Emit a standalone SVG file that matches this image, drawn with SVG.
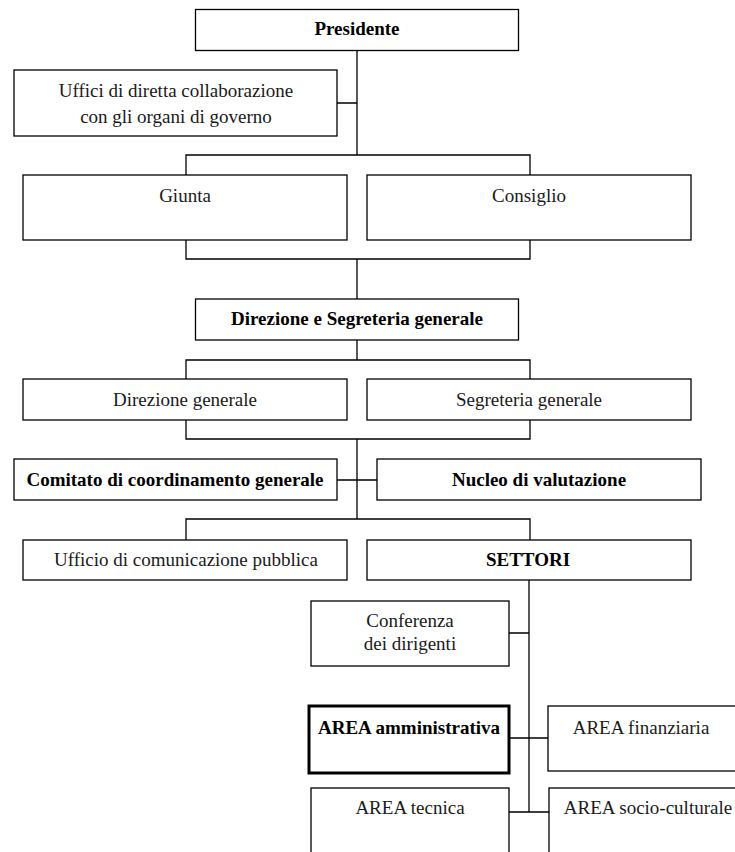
<svg xmlns="http://www.w3.org/2000/svg" width="735" height="852" viewBox="0 0 735 852">
<style>
.box{fill:#fff;stroke:#000;stroke-width:1.3}
.thick{fill:#fff;stroke:#000;stroke-width:3}
.t{font-family:"Liberation Serif","Times New Roman",serif;font-size:19px;fill:#1a1a1a;text-anchor:middle}
.b{font-weight:bold;fill:#000}
.c{fill:none;stroke:#000;stroke-width:1.3}
</style>
<rect width="735" height="852" fill="#fff"/>
<g id="connectors">
<path class="c" d="M357,51 V155 M337,103 H357 M186,175 V155 H530 V175"/>
<path class="c" d="M186,240 V259 H530 V240 M357,259 V299"/>
<path class="c" d="M357,340 V360 M186,379 V360 H530 V379"/>
<path class="c" d="M186,420 V439 H530 V420 M357,439 V519 M337,480 H377"/>
<path class="c" d="M186,540 V519 H530 V540"/>
<path class="c" d="M529,580 V812 M509,633 H529 M509,738 H548 M509,812 H549"/>
</g>
<g id="presidente"><rect class="box" x="195.5" y="9.5" width="323" height="41"/><text class="t b" x="357" y="35">Presidente</text></g>
<g id="uffici"><rect class="box" x="14" y="70" width="323" height="66"/><text class="t" x="176" y="97">Uffici di diretta collaborazione</text><text class="t" x="176" y="123">con gli organi di governo</text></g>
<g id="giunta"><rect class="box" x="23" y="175" width="324" height="65"/><text class="t" x="185" y="202">Giunta</text></g>
<g id="consiglio"><rect class="box" x="367" y="175" width="324" height="65"/><text class="t" x="529" y="202">Consiglio</text></g>
<g id="direzione-segreteria"><rect class="box" x="195.5" y="299" width="323" height="41"/><text class="t b" x="357" y="325">Direzione e Segreteria generale</text></g>
<g id="direzione-generale"><rect class="box" x="23" y="379" width="324" height="41"/><text class="t" x="185" y="406">Direzione generale</text></g>
<g id="segreteria-generale"><rect class="box" x="367" y="379" width="324" height="41"/><text class="t" x="529" y="406">Segreteria generale</text></g>
<g id="comitato"><rect class="box" x="14" y="459" width="323" height="41"/><text class="t b" x="175" y="486">Comitato di coordinamento generale</text></g>
<g id="nucleo"><rect class="box" x="377" y="459" width="324" height="41"/><text class="t b" x="539" y="486">Nucleo di valutazione</text></g>
<g id="ufficio-comunicazione"><rect class="box" x="23" y="540" width="324" height="40"/><text class="t" x="186" y="566">Ufficio di comunicazione pubblica</text></g>
<g id="settori"><rect class="box" x="367" y="540" width="324" height="40"/><text class="t b" x="528" y="566">SETTORI</text></g>
<g id="conferenza"><rect class="box" x="311" y="601" width="198" height="65"/><text class="t" x="410" y="627">Conferenza</text><text class="t" x="410" y="650">dei dirigenti</text></g>
<g id="area-amministrativa"><rect class="thick" x="309" y="706" width="200" height="67"/><text class="t b" x="409" y="734">AREA amministrativa</text></g>
<g id="area-finanziaria"><rect class="box" x="548" y="706" width="202" height="65"/><text class="t" x="641" y="734">AREA finanziaria</text></g>
<g id="area-tecnica"><rect class="box" x="311" y="788" width="198" height="80"/><text class="t" x="410" y="814">AREA tecnica</text></g>
<g id="area-socio-culturale"><rect class="box" x="549" y="788" width="202" height="80"/><text class="t" x="648" y="814">AREA socio-culturale</text></g>
</svg>
